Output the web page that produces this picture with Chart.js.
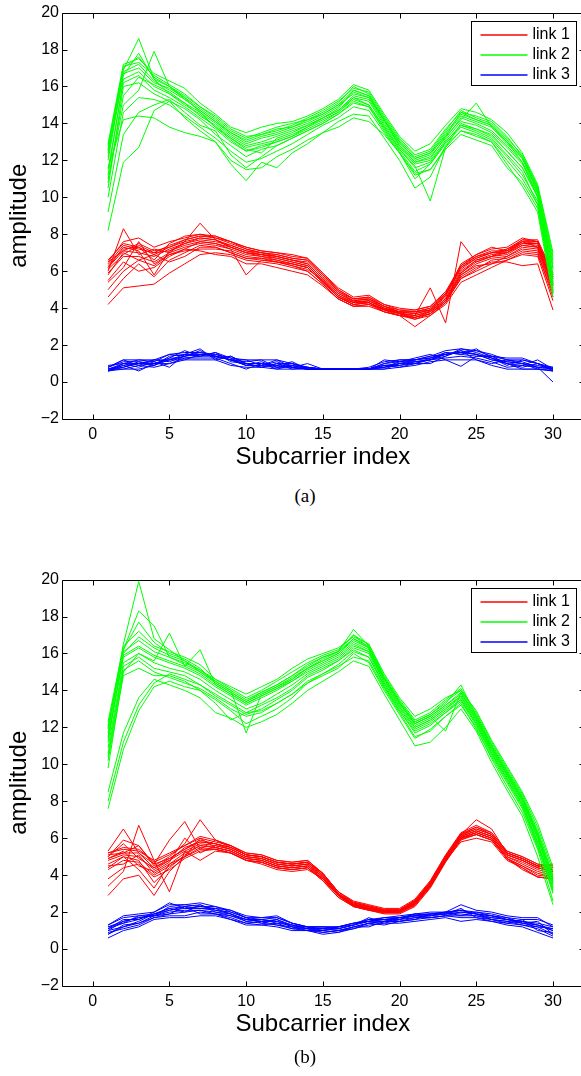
<!DOCTYPE html>
<html>
<head>
<meta charset="utf-8">
<script src="https://cdn.jsdelivr.net/npm/chart.js@4.4.0/dist/chart.umd.min.js"></script>
<style>
  html, body { margin: 0; padding: 0; background: #fff; overflow: hidden; width: 581px; height: 1076px; }
  .panel { position: absolute; left: 0; }
  .caption { position: absolute; left: 305px; transform: translateX(-50%); font-family: "Liberation Serif", "Times New Roman", serif; font-size: 19px; color: #000; }
</style>
</head>
<body>
<div class="panel" style="top:0px"><canvas id="chartA" width="600" height="480"></canvas></div>
<div class="caption" style="top:485px">(a)</div>
<div class="panel" style="top:567px"><canvas id="chartB" width="600" height="480"></canvas></div>
<div class="caption" style="top:1046px">(b)</div>
<script>
// subcarrier axis and tick positions
const subcarrier = [1,2,3,4,5,6,7,8,9,10,11,12,13,14,15,16,17,18,19,20,21,22,23,24,25,26,27,28,29,30];
const xTicks = [0, 5, 10, 15, 20, 25, 30];
const yTicks = [-2, 0, 2, 4, 6, 8, 10, 12, 14, 16, 18, 20];
const linkNames = ['link 1', 'link 2', 'link 3'];
const linkColors = ['#ff0000', '#00ff00', '#0000ff'];

// (a) amplitude traces per link
const linkA1 = [
  [6.2,7.1,7.0,6.8,7.2,7.5,7.7,7.6,7.4,7.1,6.9,6.8,6.6,6.4,5.6,4.8,4.35,4.4,4.0,3.8,3.7,3.9,4.6,6.0,6.6,6.9,7.0,7.5,7.4,5.3],
  [6.4,7.4,7.2,7.0,7.4,7.7,7.9,7.8,7.5,7.2,7.0,6.9,6.7,6.6,5.8,5.0,4.5,4.6,4.1,3.9,3.8,4.0,4.8,6.2,6.8,7.1,7.1,7.7,7.6,5.5],
  [5.9,6.8,6.8,6.5,7.0,7.3,7.5,7.4,7.2,6.9,6.8,6.6,6.4,6.2,5.4,4.6,4.2,4.3,3.9,3.7,3.5,3.8,4.4,5.8,6.4,6.7,6.8,7.3,7.2,5.0],
  [6.0,8.3,6.9,7.2,7.0,7.6,8.6,7.7,7.3,7.0,6.9,6.7,6.5,6.3,5.5,4.7,4.3,4.4,4.0,3.7,3.6,5.1,3.2,7.6,6.5,6.8,7.2,7.6,7.3,5.4],
  [4.2,5.1,5.2,5.3,5.9,6.4,6.9,7.0,6.9,6.6,6.5,6.4,6.2,6.0,5.3,4.5,4.1,4.2,3.8,3.6,3.4,3.7,4.4,5.6,6.0,6.4,6.6,6.9,6.8,4.4],
  [4.6,5.6,6.4,5.7,6.6,7.0,7.4,7.3,7.0,6.7,6.6,6.5,6.3,6.1,5.5,4.6,4.2,4.3,3.9,3.6,3.0,3.6,4.3,5.7,6.2,6.5,6.5,6.3,6.4,3.9],
  [6.5,7.6,7.8,7.3,7.6,7.8,8.0,7.9,7.6,7.3,7.1,7.0,6.8,6.7,5.9,5.1,4.6,4.7,4.2,4.0,3.9,4.1,4.9,6.3,6.9,7.2,7.3,7.8,7.6,5.8],
  [5.5,6.5,6.0,6.2,6.8,7.2,7.1,6.9,6.8,6.4,6.4,6.2,6.0,5.8,5.2,4.5,4.1,4.2,3.9,3.7,3.4,3.6,4.2,5.4,5.8,6.2,6.6,7.0,6.9,4.8],
  [5.8,7.0,6.6,6.3,6.9,7.2,7.6,7.5,7.2,5.8,6.6,6.5,6.4,6.2,5.4,4.6,4.3,4.4,4.0,3.7,3.6,3.8,4.5,5.9,6.5,6.8,6.9,7.4,7.3,5.1],
  [6.3,7.2,7.3,6.9,7.3,7.6,7.8,7.7,7.4,7.1,7.0,6.8,6.6,6.5,5.7,4.9,4.4,4.5,4.1,3.8,3.8,3.9,4.7,6.1,6.7,7.0,7.0,7.6,7.5,5.6],
  [6.1,6.9,7.4,7.0,7.1,7.4,7.6,7.5,7.3,7.0,6.8,6.7,6.5,6.3,5.5,4.7,4.3,4.3,3.95,3.75,3.6,3.85,4.5,5.9,6.6,6.8,7.0,7.4,7.3,5.2],
  [6.6,7.5,7.3,6.6,7.5,7.9,8.0,7.8,7.6,7.3,7.1,7.0,6.9,6.7,5.9,5.0,4.5,4.6,4.2,3.9,3.9,4.1,4.8,6.3,6.8,7.0,7.2,7.7,7.7,5.9],
  [5.4,6.2,7.6,6.4,6.9,7.1,7.2,7.2,7.1,6.8,6.7,6.5,6.3,6.0,5.3,4.5,4.1,4.1,3.8,3.6,3.5,3.7,4.3,5.6,6.1,6.6,6.7,7.1,7.0,4.6],
  [6.2,7.3,7.1,5.8,7.1,7.5,7.8,7.7,7.3,7.0,6.9,6.8,6.6,6.4,5.6,4.8,4.4,4.5,4.0,3.8,3.7,3.9,4.7,6.4,6.9,7.3,7.1,7.5,7.5,5.3],
  [5.0,6.0,6.6,6.9,6.5,6.8,7.3,7.3,7.0,6.7,6.7,6.6,6.4,6.2,5.4,4.6,4.2,4.3,3.8,3.6,3.5,3.7,4.4,5.8,6.3,6.4,6.8,7.2,7.1,4.9],
  [6.5,7.1,7.5,7.1,7.3,7.7,7.9,7.9,7.6,7.2,7.0,6.9,6.7,6.6,5.8,4.9,4.5,4.5,4.1,3.8,3.8,4.0,4.7,6.2,6.7,7.0,7.1,7.6,7.6,5.7]
];
const linkA2 = [
  [12.2,16.8,17.2,16.3,15.8,15.3,14.7,14.1,13.4,12.9,13.2,13.4,13.7,14.0,14.4,14.9,15.7,15.4,14.1,12.9,12.0,12.3,13.4,14.4,14.1,13.8,12.9,12.1,10.4,6.2],
  [12.8,17.0,17.6,16.5,16.0,15.5,14.9,14.3,13.6,13.2,13.5,13.8,14.0,14.2,14.6,15.1,16.0,15.6,14.3,13.1,12.2,12.5,13.6,14.7,14.3,14.0,13.2,12.3,10.6,6.8],
  [11.2,16.4,16.8,16.0,15.6,15.0,14.5,13.8,13.2,12.7,12.9,13.1,13.4,13.8,14.2,14.6,15.4,15.2,13.9,12.7,11.8,12.0,13.1,14.1,13.9,13.5,12.7,11.8,10.2,5.6],
  [12.5,16.9,18.6,16.4,15.6,15.1,14.6,14.0,13.3,12.8,13.0,13.3,13.6,13.9,14.3,14.8,15.8,15.5,14.2,12.8,11.9,12.1,13.3,14.2,15.1,13.8,13.0,11.9,10.0,5.2],
  [9.2,13.4,14.6,15.0,15.3,14.6,13.9,13.6,12.3,11.6,12.2,12.8,13.2,13.6,14.0,14.5,15.2,14.9,13.6,12.4,11.0,11.8,13.0,13.9,13.6,13.2,12.3,11.4,9.6,4.8],
  [8.2,11.9,12.7,14.7,15.2,14.3,13.6,13.0,11.8,10.9,11.9,11.6,12.4,12.9,13.5,14.1,14.5,14.4,13.2,12.0,10.5,11.1,12.8,13.6,13.4,13.0,11.8,10.6,9.2,4.6],
  [10.5,16.0,16.2,15.6,15.2,14.8,14.2,13.4,12.8,12.2,12.6,12.8,13.2,13.6,14.0,14.5,15.1,14.9,13.7,12.5,11.4,11.8,12.9,13.8,13.5,13.1,12.2,11.2,9.8,5.0],
  [11.0,15.0,15.8,17.9,16.0,15.4,14.6,13.8,13.1,12.5,12.8,13.0,13.3,13.8,14.3,14.7,15.4,15.0,13.8,12.6,11.7,9.8,12.7,14.0,13.7,13.4,12.5,11.6,10.0,5.4],
  [11.6,14.2,14.4,14.3,13.8,13.5,13.3,13.0,12.0,11.5,11.6,12.2,12.6,13.1,13.5,13.8,14.3,14.1,13.4,12.4,11.3,11.5,12.6,13.4,13.1,12.8,11.6,10.8,9.4,4.9],
  [12.9,17.2,17.5,16.7,16.3,15.9,15.1,14.5,13.8,13.5,13.8,14.0,14.1,14.4,14.8,15.3,16.1,15.8,14.5,13.3,12.5,12.9,13.9,14.8,14.6,14.2,13.5,12.4,10.7,7.0],
  [12.0,16.7,17.0,16.2,15.9,15.4,14.8,14.2,13.5,13.0,13.3,13.5,13.8,14.1,14.5,15.0,15.8,15.5,14.2,13.0,12.1,12.4,13.5,14.5,14.2,13.9,13.0,12.2,10.5,6.4],
  [12.6,17.1,17.3,16.6,16.1,15.6,14.9,14.4,13.7,13.3,13.4,13.6,13.9,14.3,14.7,15.2,15.9,15.7,14.4,13.2,12.3,12.6,13.7,14.6,14.4,14.1,13.3,12.2,10.5,6.6],
  [11.5,16.2,16.6,15.8,15.4,14.9,14.3,13.7,13.0,12.5,12.7,13.0,13.3,13.7,14.1,14.6,15.3,15.0,13.8,12.6,11.6,11.9,13.0,13.9,13.7,13.3,12.5,11.6,10.1,5.8],
  [10.8,15.5,16.5,16.1,15.7,15.1,14.4,13.9,13.2,12.6,12.4,13.2,13.5,13.9,14.3,14.7,15.5,15.3,14.0,12.8,11.9,12.2,13.2,14.3,14.0,13.6,12.8,11.9,10.3,5.7],
  [12.4,16.6,17.8,16.4,16.0,15.3,14.7,14.1,13.5,13.1,13.4,13.7,13.8,14.2,14.5,15.0,15.6,15.4,14.2,13.0,12.1,12.4,13.3,14.6,14.2,13.9,13.1,12.1,10.3,6.1],
  [10.0,14.6,15.4,15.3,15.0,14.4,13.8,13.2,12.5,11.9,12.1,12.5,12.9,13.4,13.9,14.3,14.9,14.7,13.5,12.4,11.2,11.5,12.7,13.6,13.3,13.0,12.0,11.0,9.6,5.3]
];
const linkA3 = [
  [0.7,0.7,0.7,0.9,1.2,1.4,1.5,1.4,1.2,0.9,0.9,0.8,0.8,0.7,0.7,0.7,0.7,0.7,0.9,1.0,1.1,1.2,1.5,1.6,1.5,1.2,1.0,0.9,0.8,0.7],
  [0.8,1.2,1.2,1.2,1.5,1.6,1.6,1.5,1.3,1.2,1.2,1.2,1.0,0.8,0.7,0.7,0.7,0.7,1.0,1.2,1.2,1.4,1.7,1.8,1.7,1.4,1.3,1.3,1.0,0.8],
  [0.6,0.9,0.6,1.0,1.0,1.3,1.3,1.3,1.0,0.7,1.0,0.7,0.9,0.7,0.7,0.7,0.7,0.7,0.8,0.9,1.0,1.2,1.3,1.4,1.3,1.1,0.8,0.9,1.2,0.7],
  [0.9,1.0,1.0,0.9,1.4,1.5,1.8,1.2,1.4,1.0,0.8,1.0,0.7,0.8,0.7,0.7,0.7,0.7,1.2,1.1,1.3,1.5,1.2,0.85,1.4,1.4,1.0,0.7,0.7,0.6],
  [0.7,1.0,0.8,1.1,0.8,1.5,1.4,1.6,1.1,1.0,1.0,0.9,1.1,0.7,0.7,0.7,0.7,0.7,0.9,0.8,1.0,1.3,1.6,1.5,1.8,1.3,1.1,1.0,0.8,0.0],
  [0.6,0.8,1.0,1.2,1.2,1.2,1.5,1.5,1.2,1.2,0.9,1.2,0.8,1.0,0.7,0.7,0.7,0.7,0.7,1.0,1.0,1.0,1.4,1.7,1.2,1.0,1.2,1.0,0.7,0.7],
  [0.8,1.1,1.1,1.0,1.3,1.7,1.4,1.4,1.2,0.9,1.1,0.8,1.0,0.8,0.7,0.7,0.7,0.8,1.1,1.2,1.2,1.3,1.5,1.7,1.5,1.3,0.9,1.2,1.0,0.7],
  [0.6,0.7,0.9,0.8,1.0,1.2,1.2,1.2,0.9,0.8,0.8,0.7,0.7,0.7,0.7,0.7,0.7,0.7,0.7,0.8,0.9,1.1,1.2,1.2,1.2,0.9,0.7,0.7,0.7,0.6],
  [0.7,0.9,1.0,1.0,1.2,1.5,1.5,1.4,1.2,1.0,1.0,0.9,0.8,0.7,0.7,0.7,0.7,0.7,0.8,1.0,1.2,1.3,1.5,1.6,1.5,1.2,1.1,1.0,0.9,0.7],
  [0.8,1.2,0.9,1.2,1.1,1.4,1.6,1.4,1.2,1.1,1.2,0.8,0.9,0.8,0.7,0.7,0.7,0.7,1.0,1.1,1.2,1.4,1.5,1.6,1.7,1.5,1.2,1.1,0.8,0.8],
  [0.7,0.8,1.1,0.9,1.3,1.3,1.4,1.6,1.3,0.9,0.9,1.1,0.8,0.7,0.7,0.7,0.7,0.7,0.9,0.9,1.1,1.2,1.4,1.8,1.6,1.3,1.0,0.8,1.0,0.7],
  [0.6,1.0,1.2,1.1,1.5,1.4,1.7,1.3,1.4,1.0,0.8,1.0,1.0,0.7,0.7,0.7,0.7,0.7,0.8,1.1,1.1,1.2,1.6,1.5,1.4,1.4,1.2,1.2,1.0,0.6]
];

// (b) amplitude traces per link
const linkB1 = [
  [4.8,5.1,5.0,4.3,4.8,5.3,5.7,5.6,5.4,5.0,4.9,4.6,4.5,4.6,3.9,2.95,2.4,2.2,2.05,2.05,2.5,3.5,4.9,6.1,6.4,6.1,5.1,4.8,4.4,4.2],
  [5.2,5.5,5.4,4.7,5.1,5.6,6.0,5.8,5.6,5.2,5.1,4.8,4.7,4.8,4.1,3.1,2.6,2.4,2.2,2.2,2.7,3.7,5.1,6.3,6.7,6.3,5.3,5.0,4.6,4.4],
  [4.3,4.8,4.7,4.0,4.5,5.0,5.5,5.4,5.2,4.8,4.7,4.4,4.3,4.4,3.7,2.8,2.3,2.1,1.9,1.9,2.3,3.3,4.7,5.9,6.2,5.9,4.9,4.5,4.1,3.9],
  [5.3,6.5,5.2,4.6,5.9,6.9,5.4,5.9,5.5,5.1,5.0,4.7,4.6,4.7,4.0,3.0,2.5,2.3,2.1,2.1,2.6,3.6,5.0,6.2,7.0,6.5,5.2,4.9,4.5,4.3],
  [2.9,3.8,4.0,2.9,4.2,5.0,6.0,5.5,5.3,4.9,4.8,4.5,4.4,4.5,3.8,2.9,2.3,2.1,2.0,2.0,2.4,3.4,4.8,5.8,6.0,5.8,4.8,4.4,3.9,3.8],
  [3.4,4.2,6.7,4.8,3.1,5.3,4.8,5.3,5.2,4.8,4.6,4.3,4.2,4.3,3.8,2.9,2.4,2.2,2.0,2.0,2.4,3.4,4.8,6.0,6.3,6.0,5.0,4.6,4.2,4.0],
  [5.0,5.9,5.6,4.5,5.0,5.7,7.0,5.9,5.6,5.1,5.0,4.7,4.6,4.7,4.1,3.0,2.5,2.3,2.1,2.1,2.6,3.6,5.0,6.2,6.5,6.2,5.2,4.9,4.5,4.3],
  [4.6,5.0,4.8,3.6,4.4,5.1,5.6,5.5,5.3,4.9,4.8,4.5,4.4,4.5,3.9,2.9,2.4,2.2,2.0,2.1,2.5,3.5,4.8,6.0,6.3,6.0,4.9,4.3,3.9,3.8],
  [4.9,5.3,4.5,4.2,4.7,6.0,5.2,5.6,5.4,5.0,4.9,4.6,4.5,4.6,4.0,3.0,2.4,2.2,2.0,2.0,2.5,3.5,4.9,6.1,6.4,6.1,5.1,4.8,4.4,4.2],
  [5.1,5.2,5.6,4.6,4.9,5.4,5.9,5.7,5.5,5.1,5.0,4.7,4.6,4.7,4.1,3.1,2.5,2.3,2.1,2.1,2.6,3.6,5.0,6.2,6.6,6.2,5.2,4.9,4.5,4.6],
  [4.9,5.2,5.2,4.4,4.9,5.4,5.8,5.7,5.5,5.1,5.0,4.7,4.6,4.7,4.0,3.0,2.45,2.25,2.1,2.1,2.55,3.55,4.95,6.15,6.5,6.2,5.2,4.9,4.5,4.3],
  [4.5,4.6,5.1,4.1,4.6,5.2,5.6,5.5,5.3,4.9,4.8,4.5,4.4,4.5,3.8,2.9,2.35,2.15,2.0,2.0,2.45,3.45,4.85,6.05,6.3,6.0,5.0,4.7,4.3,4.1],
  [5.0,5.7,4.9,4.4,4.8,5.5,5.8,5.7,5.4,5.0,4.9,4.6,4.5,4.6,3.9,2.95,2.4,2.2,2.05,2.05,2.5,3.5,4.9,6.1,6.4,6.1,5.1,4.8,4.4,4.2],
  [3.8,4.4,4.6,3.9,4.3,4.9,5.3,5.4,5.2,4.8,4.7,4.4,4.3,4.4,3.7,2.8,2.3,2.1,1.95,1.95,2.35,3.35,4.75,5.95,6.2,5.9,4.9,4.4,3.9,3.8],
  [5.2,5.4,5.3,4.8,5.2,5.6,6.1,5.9,5.6,5.2,5.1,4.8,4.7,4.8,4.1,3.1,2.55,2.35,2.15,2.15,2.65,3.65,5.05,6.25,6.6,6.3,5.3,5.0,4.6,4.5],
  [4.4,5.0,4.3,3.3,4.6,5.0,5.4,5.4,5.2,4.8,4.7,4.4,4.3,4.4,3.8,2.9,2.35,2.15,2.0,2.0,2.45,3.45,4.8,6.0,6.2,5.9,4.9,4.5,4.0,3.9]
];
const linkB2 = [
  [11.5,15.8,16.3,15.8,15.5,15.2,14.8,14.2,13.7,13.2,13.6,14.0,14.5,15.1,15.5,15.9,16.6,16.2,14.5,13.2,12.1,12.5,13.1,13.7,12.4,10.8,9.4,8.0,6.0,3.5],
  [12.3,16.4,17.2,16.4,16.1,15.8,15.4,14.6,14.1,13.6,14.0,14.5,15.0,15.5,15.9,16.2,17.0,16.5,14.8,13.5,12.4,12.8,13.5,14.1,12.8,11.2,9.8,8.4,6.6,4.2],
  [10.6,15.3,15.8,15.2,15.0,14.8,14.3,13.7,13.2,12.7,13.0,13.5,14.0,14.7,15.1,15.6,16.3,16.0,14.2,12.9,11.8,12.2,12.8,13.4,12.1,10.5,9.1,7.7,5.6,3.0],
  [11.9,16.5,19.9,16.8,16.2,15.6,15.0,14.4,13.9,13.4,13.9,14.3,14.8,15.3,15.8,16.1,17.3,16.4,14.7,13.4,12.3,12.7,13.3,14.3,12.6,11.0,9.6,8.2,6.3,3.8],
  [7.6,10.8,12.9,14.2,14.5,14.2,14.0,13.5,12.9,12.2,12.6,13.0,13.6,14.4,14.8,15.2,16.0,15.5,14.0,12.7,11.4,11.9,12.6,13.2,12.0,10.3,8.8,7.4,5.4,2.6],
  [8.5,11.7,13.6,14.6,14.3,14.0,13.6,12.8,12.5,12.0,12.3,12.7,13.3,14.0,14.5,15.0,15.6,15.3,13.8,12.4,11.0,11.2,12.0,13.0,11.8,10.1,8.6,7.2,5.0,2.4],
  [9.8,15.0,16.0,15.6,17.1,15.3,16.2,14.3,13.8,13.3,13.7,14.1,14.5,15.0,15.4,15.8,16.5,16.1,14.4,13.1,12.0,12.4,13.0,13.7,12.4,10.8,9.4,8.0,6.0,3.6],
  [12.0,16.2,18.3,17.5,15.8,15.4,15.0,14.5,14.0,11.7,13.8,14.2,14.6,15.2,15.6,16.0,16.8,16.3,14.6,13.3,12.2,12.6,11.8,13.9,12.5,10.9,9.5,8.1,6.2,3.9],
  [10.2,14.8,15.2,14.8,14.8,14.5,14.0,13.3,12.4,12.8,12.9,13.3,13.8,14.4,14.9,15.3,15.8,15.6,14.1,12.8,11.5,11.8,12.6,13.3,11.9,10.4,9.0,7.6,5.5,3.2],
  [11.2,16.0,16.9,16.3,15.9,15.6,15.1,14.6,14.2,13.8,14.2,14.6,15.2,15.7,16.0,16.3,16.9,16.5,14.9,13.6,12.6,13.0,13.6,14.0,12.9,11.3,9.9,8.5,6.8,4.4],
  [11.4,15.9,16.4,15.9,15.6,15.3,14.9,14.3,13.8,13.3,13.7,14.1,14.6,15.2,15.6,16.0,16.7,16.3,14.6,13.3,12.2,12.6,13.2,13.8,12.5,10.9,9.5,8.1,6.1,3.6],
  [12.1,16.1,16.7,16.1,15.8,15.5,15.1,14.5,14.0,13.5,13.9,14.3,14.8,15.4,15.8,16.1,16.8,16.4,14.7,13.4,12.3,12.7,13.4,14.0,12.7,11.1,9.7,8.3,6.4,4.0],
  [10.9,15.5,16.0,15.5,15.2,15.0,14.6,14.0,13.5,13.0,13.3,13.8,14.3,14.9,15.3,15.7,16.4,16.1,14.4,13.1,12.0,12.4,13.0,13.6,12.3,10.7,9.3,7.9,5.8,3.3],
  [8.0,11.2,13.2,14.4,14.9,14.6,14.3,13.8,13.3,12.8,13.2,13.6,14.1,14.8,15.2,15.6,16.2,15.8,14.2,12.9,11.7,12.1,12.8,13.5,12.2,10.6,9.2,7.8,5.8,3.1],
  [11.7,16.2,17.7,16.6,16.0,15.7,15.2,14.4,13.9,13.4,13.8,14.2,14.7,15.2,15.7,16.1,17.0,16.3,14.6,13.3,12.2,12.6,13.2,13.9,12.6,11.0,9.6,8.2,6.2,3.7],
  [10.4,15.1,15.6,15.0,14.7,14.4,14.1,13.6,13.0,12.6,12.8,13.3,13.8,14.5,14.9,15.4,16.1,15.8,14.3,13.0,11.9,12.3,12.9,13.5,12.2,10.6,9.2,7.8,5.7,3.4]
];
const linkB3 = [
  [1.2,1.5,1.7,1.8,2.0,2.1,2.1,2.0,1.8,1.6,1.5,1.5,1.2,1.2,1.0,1.1,1.3,1.5,1.6,1.6,1.7,1.8,1.9,1.9,1.8,1.7,1.6,1.5,1.3,1.0],
  [1.3,1.8,1.9,2.0,2.4,2.4,2.5,2.3,2.1,1.8,1.7,1.8,1.4,1.2,1.2,1.2,1.4,1.6,1.7,1.8,1.9,2.0,2.0,2.4,2.1,2.0,1.8,1.7,1.7,1.2],
  [0.6,1.0,1.2,1.6,1.7,1.7,1.8,1.8,1.6,1.3,1.3,1.2,1.0,1.0,0.8,0.9,1.1,1.3,1.4,1.4,1.5,1.6,1.7,1.5,1.6,1.5,1.3,1.2,0.9,0.6],
  [1.0,1.2,1.5,1.9,2.2,2.3,2.2,2.2,1.9,1.5,1.6,1.4,1.3,1.1,1.1,1.0,1.2,1.4,1.5,1.7,1.8,1.7,1.8,2.0,1.9,1.6,1.5,1.4,1.5,0.8],
  [1.2,1.4,1.8,1.9,2.2,2.0,2.4,2.1,2.0,1.7,1.4,1.6,1.3,1.2,1.1,1.2,1.3,1.7,1.4,1.6,1.9,1.8,2.0,1.8,2.0,1.8,1.7,1.4,1.2,1.1],
  [0.8,1.3,1.4,1.7,1.9,2.3,1.9,1.9,1.7,1.4,1.5,1.3,1.1,1.0,1.0,0.9,1.2,1.2,1.5,1.5,1.6,1.9,1.9,2.2,1.7,1.6,1.4,1.6,1.0,0.9],
  [1.1,1.6,1.6,2.0,2.5,2.2,2.3,2.2,2.1,1.7,1.7,1.7,1.4,1.2,1.2,1.2,1.4,1.5,1.7,1.7,1.8,1.9,2.0,2.1,1.9,1.8,1.6,1.5,1.4,1.2],
  [0.9,1.1,1.3,1.7,1.8,1.8,2.0,1.9,1.6,1.4,1.3,1.4,1.1,1.1,0.9,1.0,1.2,1.4,1.3,1.5,1.6,1.7,1.8,1.7,1.7,1.5,1.4,1.3,1.1,0.7],
  [1.1,1.4,1.6,1.9,2.1,2.2,2.2,2.1,1.9,1.6,1.6,1.5,1.3,1.1,1.1,1.1,1.3,1.5,1.6,1.7,1.8,1.8,1.9,2.0,1.9,1.7,1.6,1.5,1.3,1.0],
  [1.3,1.7,1.8,1.8,2.3,2.4,2.3,2.3,2.0,1.7,1.6,1.7,1.4,1.2,1.2,1.1,1.3,1.6,1.6,1.7,1.9,1.9,2.0,2.1,2.0,1.9,1.7,1.6,1.6,1.3],
  [0.8,1.2,1.4,1.8,1.9,2.0,2.1,1.9,1.8,1.5,1.4,1.3,1.2,1.0,0.9,1.0,1.1,1.4,1.5,1.5,1.7,1.7,1.8,1.8,1.8,1.6,1.5,1.3,1.2,0.8],
  [1.0,1.5,1.7,1.8,2.1,2.3,2.4,2.0,1.9,1.6,1.5,1.6,1.2,1.1,1.0,1.2,1.4,1.5,1.5,1.6,1.8,1.9,1.9,2.1,1.9,1.8,1.6,1.4,1.3,1.1]
];

const sansFont = '"Liberation Sans", Arial, Helvetica, sans-serif';

// box around the axes with inward ticks on all four sides
const matlabAxes = {
  id: 'matlabAxes',
  afterDatasetsDraw(chart) {
    const { ctx, chartArea: a, scales: { x, y } } = chart;
    const L = Math.round(a.left) + 0.5, R = Math.round(a.right) + 0.5;
    const T = Math.round(a.top) + 0.5, B = Math.round(a.bottom) + 0.5;
    const len = 5;
    ctx.save();
    ctx.strokeStyle = '#000';
    ctx.lineWidth = 1;
    ctx.beginPath();
    ctx.rect(L, T, R - L, B - T);
    x.ticks.forEach(t => {
      const px = Math.round(x.getPixelForValue(t.value)) + 0.5;
      ctx.moveTo(px, B); ctx.lineTo(px, B - len);
      ctx.moveTo(px, T); ctx.lineTo(px, T + len);
    });
    y.ticks.forEach(t => {
      const py = Math.round(y.getPixelForValue(t.value)) + 0.5;
      ctx.moveTo(L, py); ctx.lineTo(L + len, py);
      ctx.moveTo(R, py); ctx.lineTo(R - len, py);
    });
    ctx.stroke();
    ctx.restore();
  }
};

// boxed legend in the upper right corner, one entry per link
const boxLegend = {
  id: 'boxLegend',
  afterDraw(chart) {
    const { ctx, chartArea: a } = chart;
    const w = 105, h = 64;
    const bx = Math.round(a.right - 8 - w) + 0.5, by = Math.round(a.top + 8) + 0.5;
    ctx.save();
    ctx.setLineDash([]);
    ctx.fillStyle = '#ffffff';
    ctx.fillRect(bx, by, w, h);
    ctx.strokeStyle = '#000000';
    ctx.lineWidth = 1;
    ctx.strokeRect(bx, by, w, h);
    ctx.font = '16px ' + sansFont;
    ctx.textBaseline = 'middle';
    ctx.textAlign = 'left';
    linkNames.forEach((label, i) => {
      // sample line spans two pixel rows so the colour holds up
      const cy = Math.round(by + 13 + i * 20);
      ctx.beginPath();
      ctx.strokeStyle = linkColors[i];
      ctx.lineWidth = 1.5;
      ctx.moveTo(bx + 9, cy);
      ctx.lineTo(bx + 56, cy);
      ctx.stroke();
      ctx.fillStyle = '#000000';
      ctx.fillText(label, bx + 61, cy);
    });
    ctx.restore();
  }
};

function linkDatasets(traces, link) {
  return traces.map(trace => ({
    label: linkNames[link],
    borderColor: linkColors[link],
    order: 2 - link,
    data: trace.map((v, i) => ({ x: subcarrier[i], y: v }))
  }));
}

function drawPanel(id, l1, l2, l3) {
  new Chart(document.getElementById(id), {
    type: 'line',
    data: {
      datasets: [...linkDatasets(l1, 0), ...linkDatasets(l2, 1), ...linkDatasets(l3, 2)]
    },
    options: {
      responsive: false,
      animation: false,
      events: [],
      layout: { padding: { top: 7.6, right: 16.3, left: 0, bottom: 0 } },
      elements: {
        point: { radius: 0 },
        line: { borderWidth: 1, tension: 0, fill: false }
      },
      plugins: { legend: { display: false }, tooltip: { enabled: false } },
      scales: {
        x: {
          type: 'linear',
          min: -2,
          max: 32,
          afterBuildTicks: s => { s.ticks = xTicks.map(v => ({ value: v })); },
          afterFit: s => { s.height = 61; },
          grid: { display: false, drawTicks: false, tickLength: 0 },
          border: { display: false },
          ticks: { color: '#000', font: { family: sansFont, size: 16 }, padding: 6, maxRotation: 0 },
          title: { display: true, text: 'Subcarrier index', color: '#000', font: { family: sansFont, size: 24 }, padding: { top: 0, bottom: 8 } }
        },
        y: {
          type: 'linear',
          min: -2,
          max: 20,
          afterBuildTicks: s => { s.ticks = yTicks.map(v => ({ value: v })); },
          afterFit: s => { s.width = 62; },
          grid: { display: false, drawTicks: false, tickLength: 0 },
          border: { display: false },
          ticks: {
            color: '#000',
            font: { family: sansFont, size: 16 },
            padding: 3,
            callback: v => String(v).replace('-', '\u2212')
          },
          title: { display: true, text: 'amplitude', color: '#000', font: { family: sansFont, size: 24 }, padding: { top: 5, bottom: 0 } }
        }
      }
    },
    plugins: [matlabAxes, boxLegend]
  });
}

drawPanel('chartA', linkA1, linkA2, linkA3);
drawPanel('chartB', linkB1, linkB2, linkB3);
</script>
</body>
</html>
